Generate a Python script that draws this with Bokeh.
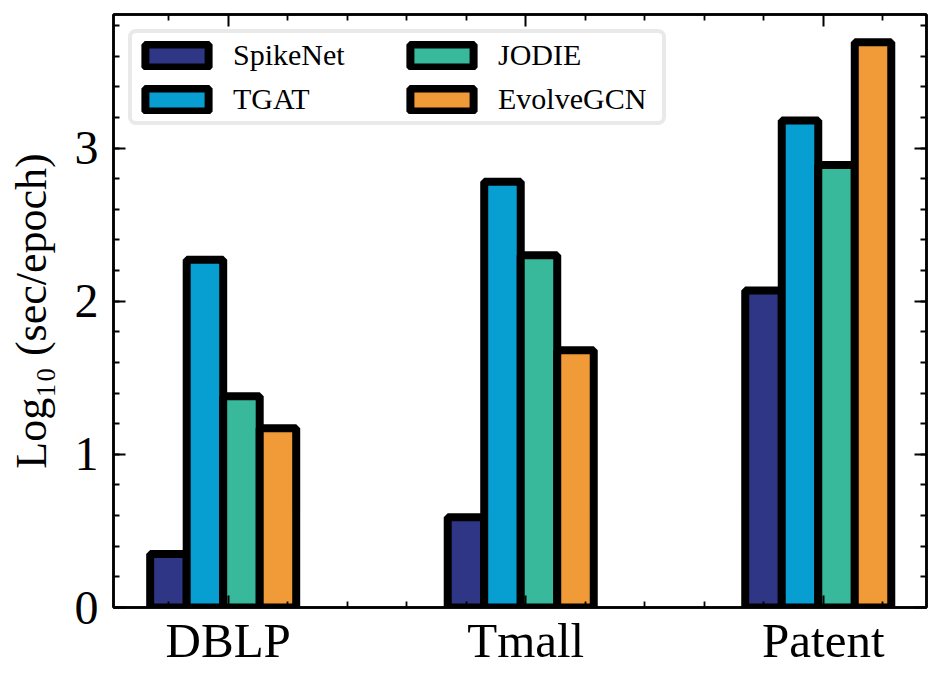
import numpy as np
from bokeh.plotting import figure
from bokeh.models import (Range1d, FixedTicker, SingleIntervalTicker, LinearAxis,
                          Legend, LegendItem, CustomLabelingPolicy)
from bokeh.embed import file_html
from bokeh.resources import INLINE

# ---- data ----
categories = ["DBLP", "Tmall", "Patent"]
methods = ["SpikeNet", "TGAT", "JODIE", "EvolveGCN"]
spikenet = [0.35, 0.59, 2.07]
tgat = [2.27, 2.78, 3.18]
jodie = [1.38, 2.30, 2.89]
evolvegcn = [1.17, 1.68, 3.69]
colors = ["#2F3685", "#079ED1", "#38B99C", "#F19B38"]

series = [spikenet, tgat, jodie, evolvegcn]

FONT = "Liberation Serif"

p = figure(frame_width=813, frame_height=593,
           x_range=Range1d(-0.3855, 2.347), y_range=Range1d(0, 3.872),
           output_backend="svg", toolbar_location=None,
           min_border_left=113, min_border_top=14, min_border_right=7,
           min_border_bottom=60, background_fill_color="white",
           border_fill_color="white")
p.xgrid.visible = False
p.ygrid.visible = False
p.outline_line_color = "black"
p.outline_line_width = 2.5

positions = np.arange(len(categories), dtype=float)
w = 0.1227
shift = -0.0168
items = []
for j, (name, vals, col) in enumerate(zip(methods, series, colors)):
    xs = positions + shift + (j - 1.5) * w
    r = p.vbar(x=xs, top=vals, bottom=0, width=w, fill_color=col,
               line_color="black", line_width=8)
    items.append(LegendItem(label=name, renderers=[r]))

minor_x = [float(v) for v in np.round(np.arange(-0.4, 2.41, 0.2), 2)
           if abs(v - round(v)) > 1e-6]
xticker = FixedTicker(ticks=list(positions), minor_ticks=minor_x)
yticker = SingleIntervalTicker(interval=1, num_minor_ticks=5)

hide_all = CustomLabelingPolicy(code="""
for (const i of indices) {
  indices.unset(i)
}
return indices
""")


def style_axis(ax, show_labels, size="48px"):
    ax.axis_line_width = 2.5
    ax.axis_line_color = "black"
    ax.major_tick_in = 12
    ax.major_tick_out = 0
    ax.minor_tick_in = 6
    ax.minor_tick_out = 0
    ax.major_tick_line_width = 2
    ax.minor_tick_line_width = 1.8
    ax.major_tick_line_color = "black"
    ax.minor_tick_line_color = "black"
    if not show_labels:
        ax.major_label_text_font_size = "0px"
        ax.major_label_standoff = 0
        ax.major_label_policy = hide_all
        ax.axis_label = None
    else:
        ax.major_label_text_font = FONT
        ax.major_label_text_font_size = size
        ax.major_label_text_color = "black"


xa = p.xaxis[0]
xa.ticker = xticker
xa.major_label_overrides = {i: c for i, c in enumerate(categories)}
style_axis(xa, True, "49px")
xa.major_label_standoff = 5

ya = p.yaxis[0]
ya.ticker = yticker
style_axis(ya, True, "48px")
ya.major_label_standoff = 15
ya.axis_label = "Log\u2081\u2080 (sec/epoch)"
ya.axis_label_text_font = FONT
ya.axis_label_text_font_size = "44px"
ya.axis_label_text_font_style = "normal"
ya.axis_label_text_color = "black"
ya.axis_label_standoff = 16

top_ax = LinearAxis(ticker=xticker)
style_axis(top_ax, False)
p.add_layout(top_ax, "above")
right_ax = LinearAxis(ticker=yticker)
style_axis(right_ax, False)
p.add_layout(right_ax, "right")

legend = Legend(items=items, ncols=2, location="top_left")
legend.margin = 15
legend.padding = 5
legend.spacing = 10
legend.glyph_width = 79
legend.glyph_height = 29
legend.label_standoff = 17
legend.label_width = 159
legend.label_text_font = FONT
legend.label_text_font_size = "30px"
legend.label_text_color = "black"
legend.border_line_color = "#D4D4D4"
legend.border_line_width = 4
legend.background_fill_color = "white"
legend.background_fill_alpha = 1.0
if "border_radius" in Legend.properties():
    legend.border_radius = 8
p.add_layout(legend)

open("out.html", "w").write(file_html(p, INLINE))
